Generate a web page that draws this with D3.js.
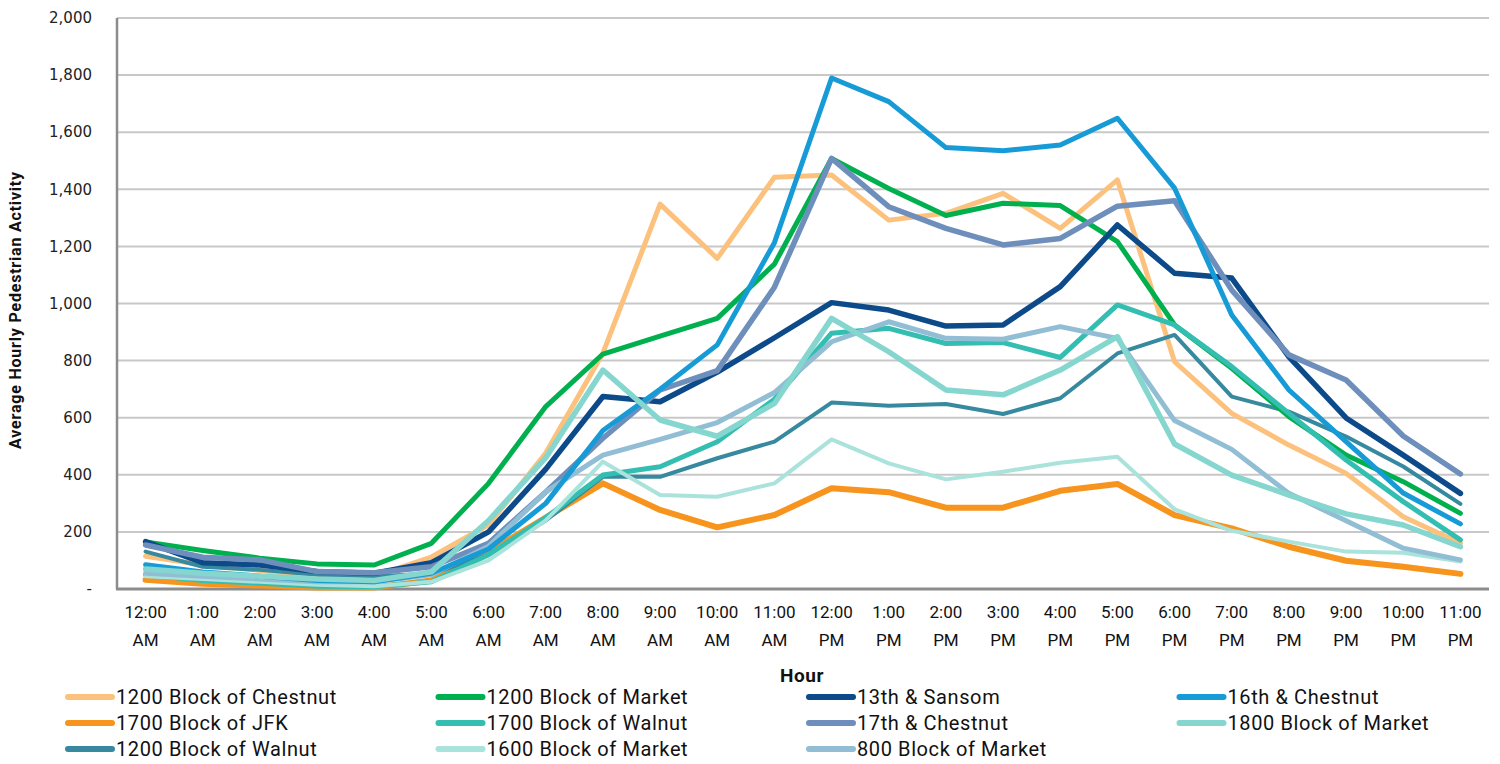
<!doctype html>
<html>
<head>
<meta charset="utf-8">
<style>
  body { margin: 0; background: #fff; }
  #chart { display: block; }
  #chart .grid line { stroke: #c8c8c8; stroke-width: 2; }
  #chart .ytick { font-family: "DejaVu Sans", sans-serif; font-size: 15px; fill: #222; }
  #chart .xtick, #chart .legend text { font-family: Roboto, "Noto Sans", sans-serif; fill: #111; }
  #chart .series { fill: none; stroke-linejoin: round; stroke-linecap: round; }
</style>
</head>
<body>
<svg id="chart"></svg>
<script src="https://d3js.org/d3.v7.min.js"></script>
<script>
// hours on the x axis
var hours = ["12:00 AM","1:00 AM","2:00 AM","3:00 AM","4:00 AM","5:00 AM","6:00 AM","7:00 AM",
             "8:00 AM","9:00 AM","10:00 AM","11:00 AM","12:00 PM","1:00 PM","2:00 PM","3:00 PM",
             "4:00 PM","5:00 PM","6:00 PM","7:00 PM","8:00 PM","9:00 PM","10:00 PM","11:00 PM"];
var yTicks = [0, 200, 400, 600, 800, 1000, 1200, 1400, 1600, 1800, 2000];

// average hourly pedestrian counts, one array per location
var chestnut1200 = [115, 85, 65, 45, 45, 112, 225, 476, 826, 1348, 1158, 1442, 1450, 1292, 1316, 1386, 1263, 1433, 796, 615, 504, 405, 253, 160];
var market1200   = [165, 135, 108, 88, 84, 160, 370, 639, 823, 886, 948, 1138, 1508, 1403, 1308, 1351, 1343, 1217, 925, 773, 604, 469, 376, 265];
var sansom13     = [166, 92, 84, 61, 55, 92, 200, 420, 674, 656, 760, 880, 1003, 977, 921, 925, 1059, 1275, 1106, 1089, 813, 599, 469, 335];
var chestnut16   = [85, 60, 45, 30, 25, 55, 140, 300, 555, 700, 855, 1213, 1790, 1707, 1546, 1535, 1555, 1649, 1404, 960, 697, 516, 336, 228];
var jfk1700      = [32, 18, 12, 5, 5, 30, 130, 250, 370, 277, 216, 259, 353, 339, 285, 285, 344, 368, 259, 212, 148, 99, 78, 53];
var walnut1700   = [50, 30, 20, 10, 8, 25, 120, 250, 399, 428, 516, 665, 896, 913, 860, 863, 811, 995, 925, 779, 615, 452, 306, 172];
var chestnut17   = [154, 111, 102, 61, 57, 78, 160, 340, 528, 697, 765, 1057, 1508, 1339, 1263, 1205, 1228, 1341, 1360, 1047, 820, 732, 536, 403];
var market1800   = [70, 55, 45, 35, 30, 60, 240, 460, 767, 592, 535, 650, 948, 831, 697, 680, 767, 884, 508, 399, 329, 263, 224, 148];
var walnut1200   = [131, 78, 67, 50, 45, 53, 120, 240, 393, 393, 458, 516, 653, 642, 648, 613, 668, 825, 890, 674, 621, 534, 429, 298];
var market1600   = [45, 35, 25, 15, 10, 25, 100, 240, 446, 329, 323, 370, 524, 440, 384, 411, 442, 463, 279, 204, 166, 131, 127, 96];
var market800    = [55, 45, 35, 25, 25, 50, 150, 340, 469, 524, 583, 688, 866, 936, 878, 875, 919, 878, 590, 489, 335, 239, 143, 102];

// legend order (row by row)
var names = ["1200 Block of Chestnut", "1200 Block of Market", "13th & Sansom", "16th & Chestnut",
             "1700 Block of JFK", "1700 Block of Walnut", "17th & Chestnut", "1800 Block of Market",
             "1200 Block of Walnut", "1600 Block of Market", "800 Block of Market"];
var values = [chestnut1200, market1200, sansom13, chestnut16, jfk1700, walnut1700,
              chestnut17, market1800, walnut1200, market1600, market800];
var colors = ["#fcc17c", "#00b04f", "#0c4a8a", "#179bd7", "#f7941d", "#34beb1",
              "#6e8fbb", "#85d6ce", "#36899e", "#aae2dc", "#91bed4"];
var widths = [5, 5, 5.5, 5, 6, 5, 5.5, 5.5, 4, 4, 5];
// draw order (bottom to top)
var drawOrder = [0, 4, 8, 1, 5, 9, 2, 6, 10, 3, 7];

var W = 1500, H = 764;
var plotLeft = 117, plotRight = 1489, plotTop = 18, plotBottom = 589;

var svg = d3.select("#chart").attr("width", W).attr("height", H);

var x = d3.scalePoint().domain(hours).range([plotLeft, plotRight]).padding(0.5);
var y = d3.scaleLinear().domain([0, 2000]).range([plotBottom, plotTop]);

// gridlines
svg.append("g").attr("class", "grid")
  .selectAll("line").data(yTicks.filter(function(d) { return d > 0; }))
  .enter().append("line")
    .attr("x1", plotLeft).attr("x2", plotRight)
    .attr("y1", function(d) { return y(d); }).attr("y2", function(d) { return y(d); });

// y tick labels
svg.append("g").selectAll("text").data(yTicks).enter().append("text")
  .attr("class", "ytick")
  .attr("x", 92).attr("y", function(d) { return y(d); })
  .attr("dy", "0.35em").attr("text-anchor", "end")
  .text(function(d) { return d === 0 ? "-" : d3.format(",")(d); });

// axis lines
svg.append("line").attr("x1", plotLeft).attr("x2", plotLeft).attr("y1", plotTop).attr("y2", plotBottom)
  .attr("stroke", "#8c8c8c").attr("stroke-width", 2.5);
svg.append("line").attr("x1", plotLeft - 1).attr("x2", plotRight).attr("y1", plotBottom).attr("y2", plotBottom)
  .attr("stroke", "#8c8c8c").attr("stroke-width", 3);

// x tick labels, two lines each
var xt = svg.append("g").selectAll("text").data(hours).enter().append("text")
  .attr("class", "xtick").attr("text-anchor", "middle").attr("font-size", 17)
  .attr("transform", function(d) { return "translate(" + x(d) + ",618)"; });
xt.append("tspan").attr("x", 0).attr("y", 0).text(function(d) { return d.split(" ")[0]; });
xt.append("tspan").attr("x", 0).attr("y", 28).text(function(d) { return d.split(" ")[1]; });

// axis titles
svg.append("text").attr("x", 802).attr("y", 682).attr("text-anchor", "middle")
  .attr("font-family", "Roboto, sans-serif").attr("font-weight", "bold").attr("font-size", 19)
  .attr("letter-spacing", 0.6).attr("fill", "#111")
  .text("Hour");
svg.append("text").attr("transform", "translate(21,310) rotate(-90)").attr("text-anchor", "middle")
  .attr("font-family", "Roboto, sans-serif").attr("font-weight", "bold").attr("font-size", 16)
  .attr("letter-spacing", 0.8).attr("fill", "#111")
  .text("Average Hourly Pedestrian Activity");

// series lines
var line = d3.line()
  .x(function(d, i) { return x(hours[i]); })
  .y(function(d) { return y(d); });

svg.append("g").selectAll("path").data(drawOrder).enter().append("path")
  .attr("class", "series")
  .attr("stroke", function(k) { return colors[k]; })
  .attr("stroke-width", function(k) { return widths[k]; })
  .attr("d", function(k) { return line(values[k]); });

// legend, 4 columns
var leg = svg.append("g").attr("class", "legend").selectAll("g").data(names).enter().append("g")
  .attr("transform", function(d, i) { return "translate(" + (68 + (i % 4) * 370.5) + "," + (697 + Math.floor(i / 4) * 26) + ")"; });
leg.append("line").attr("x1", 0).attr("x2", 44).attr("y1", 0).attr("y2", 0)
  .attr("stroke", function(d, i) { return colors[i]; })
  .attr("stroke-width", 6).attr("stroke-linecap", "round");
leg.append("text").attr("x", 48).attr("y", 0).attr("dy", "0.35em").attr("font-size", 20)
  .attr("letter-spacing", 0.6)
  .text(function(d) { return d; });
</script>
</body>
</html>
